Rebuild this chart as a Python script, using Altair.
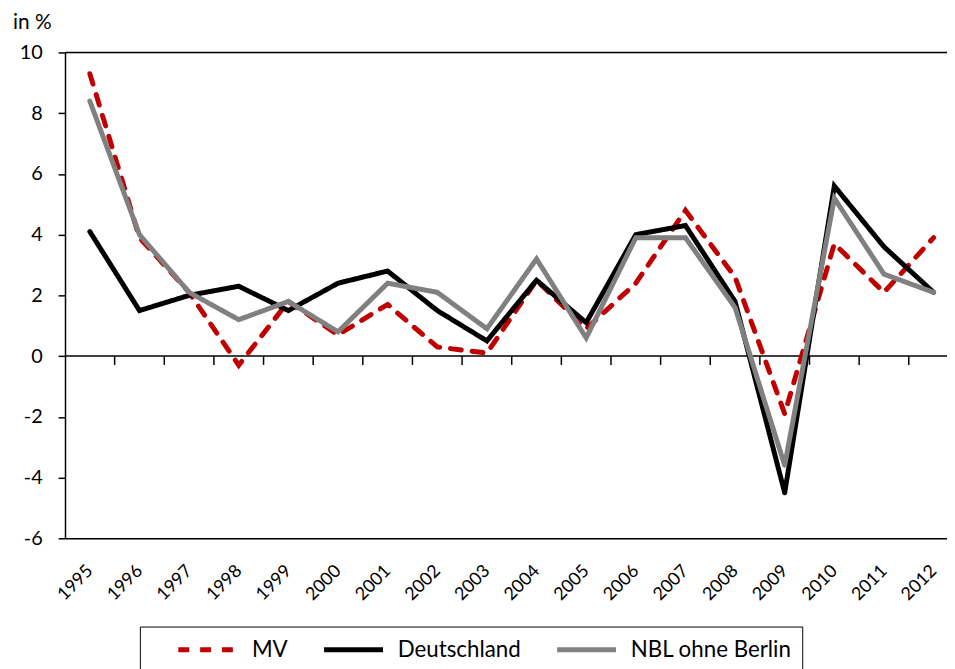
import altair as alt
import pandas as pd

years = list(range(1995, 2013))
mv = [9.3, 3.9, 2.1, -0.3, 1.8, 0.7, 1.7, 0.3, 0.1, 2.5, 0.9, 2.4, 4.8, 2.6, -1.9, 3.7, 2.1, 3.9]
de = [4.1, 1.5, 2.0, 2.3, 1.5, 2.4, 2.8, 1.5, 0.5, 2.5, 1.1, 4.0, 4.3, 1.8, -4.5, 5.6, 3.6, 2.1]
nbl = [8.4, 4.0, 2.1, 1.2, 1.8, 0.8, 2.4, 2.1, 0.9, 3.2, 0.6, 3.9, 3.9, 1.6, -3.6, 5.2, 2.7, 2.1]
series = ["MV", "Deutschland", "NBL ohne Berlin"]
colors = ["#C00000", "#000000", "#808080"]
dashes = [[11, 11], [1, 0], [1, 0]]
y_ticks = [10, 8, 6, 4, 2, 0, -2, -4, -6]
cat_bounds = [y + 0.5 for y in years[:-1]]

FONT = "Lato"

rows = []
for name, vals in zip(series, [mv, de, nbl]):
    for yr, v in zip(years, vals):
        rows.append({"Jahr": yr, "Wert": v, "Reihe": name})
df = pd.DataFrame(rows)

xscale = alt.Scale(domain=[1994.5, 2012.27], nice=False, zero=False)
yscale = alt.Scale(domain=[-6, 10], nice=False, zero=False)

x_enc = alt.X(
    "Jahr:Q",
    scale=xscale,
    axis=alt.Axis(
        values=years,
        format="d",
        title=None,
        grid=False,
        ticks=False,
        tickSize=0,
        labelAngle=-45,
        labelAlign="right",
        labelBaseline="middle",
        labelPadding=30,
        labelFontSize=18,
        labelFont=FONT,
        labelColor="#000000",
        domainColor="#000000",
        domainWidth=1.5,
        labelOverlap=False,
    ),
)
y_enc = alt.Y(
    "Wert:Q",
    scale=yscale,
    axis=alt.Axis(
        values=y_ticks,
        labelExpr="'' + datum.value",
        title="in %",
        titleAngle=0,
        titleX=-53,
        titleY=-30,
        titleAlign="left",
        titleBaseline="middle",
        titleFont=FONT,
        titleFontSize=21,
        titleFontWeight="normal",
        titleColor="#000000",
        grid=False,
        tickSize=7,
        tickColor="#000000",
        tickWidth=1.5,
        domainColor="#000000",
        domainWidth=1.5,
        labelFontSize=20,
        labelFont=FONT,
        labelColor="#000000",
        labelPadding=16,
    ),
)

color_enc = alt.Color(
    "Reihe:N",
    scale=alt.Scale(domain=series, range=colors),
    legend=alt.Legend(
        title=None,
        orient="none",
        legendX=75.5,
        legendY=579,
        direction="horizontal",
        columns=3,
        strokeColor="#000000",
        padding=10,
        columnPadding=7,
        symbolType="M-2.7,0H2.7",
        symbolSize=484,
        symbolStrokeWidth=5,
        symbolOffset=45,
        labelFont=FONT,
        labelFontSize=22.5,
        labelLimit=400,
        labelColor="#000000",
        labelOffset=31,
    ),
)
dash_enc = alt.StrokeDash(
    "Reihe:N",
    scale=alt.Scale(domain=series, range=dashes),
    legend=alt.Legend(title=None),
)

top_rule = alt.Chart(pd.DataFrame({"v": [10]})).mark_rule(
    color="#000000", strokeWidth=1.5
).encode(y=alt.Y("v:Q", scale=yscale))

zero_rule = alt.Chart(pd.DataFrame({"v": [0]})).mark_rule(
    color="#000000", strokeWidth=1.5
).encode(y=alt.Y("v:Q", scale=yscale))

tick_df = pd.DataFrame({"b": cat_bounds, "y0": [0] * len(cat_bounds), "y1": [-0.29] * len(cat_bounds)})
cat_ticks = alt.Chart(tick_df).mark_rule(color="#000000", strokeWidth=1.5).encode(
    x=alt.X("b:Q", scale=xscale),
    y=alt.Y("y0:Q", scale=yscale),
    y2="y1:Q",
)

base = alt.Chart(df).mark_line(
    strokeWidth=5, strokeJoin="miter", strokeCap="round", clip=True
).encode(x=x_enc, y=y_enc, color=color_enc, strokeDash=dash_enc)
lines = [base.transform_filter(alt.datum.Reihe == s) for s in series]

chart = alt.layer(top_rule, zero_rule, cat_ticks, *lines).properties(
    width=889.5,
    height=490,
    padding={"left": 57.5, "top": 42, "right": 0, "bottom": 129},
    autosize=alt.AutoSizeParams(type="none"),
).configure_view(stroke=None).configure(background="#ffffff")

chart.save("out.html", embed_options={"renderer": "svg", "actions": False})
